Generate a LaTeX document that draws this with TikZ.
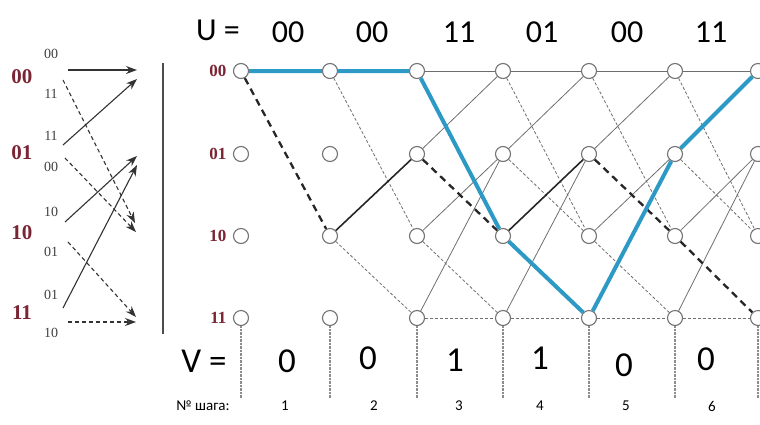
\documentclass[tikz,border=0pt]{standalone}
\usepackage{fontspec}
\setmainfont{Carlito}
\newfontfamily\statefont{Liberation Serif}
\usetikzlibrary{arrows.meta,positioning}
\definecolor{statered}{HTML}{7A2434}
\definecolor{pathblue}{HTML}{2C9AC4}
\definecolor{edgegray}{HTML}{6E6E6E}

\begin{document}
\begin{tikzpicture}[x=1pt,y=-1pt,
    state/.style={circle,draw=black!55,fill=white,line width=1.1pt,inner sep=0pt,minimum size=15pt},
    slab/.style={font=\statefont\bfseries\fontsize{17}{17}\selectfont,text=statered},
    biglab/.style={font=\statefont\bfseries\fontsize{21}{21}\selectfont,text=statered},
    olab/.style={font=\statefont\fontsize{14}{14}\selectfont,text=black!75},
    branch/.style={edgegray,line width=0.8pt},
    branchdash/.style={edgegray,line width=0.8pt,dash pattern=on 3pt off 2pt},
    surv/.style={black!85,line width=1.6pt},
    survdash/.style={black!85,line width=2.3pt,dash pattern=on 7pt off 5pt},
    bestpath/.style={pathblue,line width=4pt,line join=round},
    arrow/.style={black!80,line width=1.1pt,-{Stealth[length=11pt,width=8pt]}},
    arrowdash/.style={arrow,dash pattern=on 4pt off 3pt},
    steptick/.style={black!45,line width=1.4pt,dash pattern=on 0.8pt off 0.6pt},
    utext/.style={font=\fontsize{32}{32}\selectfont},
    vtext/.style={font=\fontsize{35}{35}\selectfont},
    ntext/.style={font=\fontsize{15}{15}\selectfont}
]
    \useasboundingbox (0,0) rectangle (760,424);

    % state diagram on the left
    \node[biglab] (s00) at (22,77) {00};
    \node[biglab] (s01) at (22,153) {01};
    \node[biglab] (s10) at (22,233) {10};
    \node[biglab] (s11) at (22,313) {11};
    \node[olab] (o1) at (51,54) {00};
    \node[olab] (o2) at (51,94) {11};
    \node[olab] (o3) at (51,136) {11};
    \node[olab] (o4) at (51,167) {00};
    \node[olab] (o5) at (51,212) {10};
    \node[olab] (o6) at (51,252) {01};
    \node[olab] (o7) at (51,295) {01};
    \node[olab] (o8) at (51,333) {10};
    \coordinate (a1) at (68,70);  \coordinate (b1) at (137,70);
    \coordinate (a2) at (63,80);  \coordinate (b2) at (135,223);
    \coordinate (a3) at (63,145); \coordinate (b3) at (137,79);
    \coordinate (a4) at (65,158); \coordinate (b4) at (136,232);
    \coordinate (a5) at (65,222); \coordinate (b5) at (137,156);
    \coordinate (a6) at (68,242); \coordinate (b6) at (136,317);
    \coordinate (a7) at (63,308); \coordinate (b7) at (137,165);
    \coordinate (a8) at (68,322); \coordinate (b8) at (136,322);
    \draw[arrow] (a1) -- (b1);
    \draw[arrowdash] (a2) -- (b2);
    \draw[arrow] (a3) -- (b3);
    \draw[arrowdash] (a4) -- (b4);
    \draw[arrow] (a5) -- (b5);
    \draw[arrowdash] (a6) -- (b6);
    \draw[arrow] (a7) -- (b7);
    \draw[arrowdash] (a8) -- (b8);
    \coordinate (sepTop) at (163,63);
    \coordinate (sepBot) at (163,334);
    \draw[black!70,line width=1.3pt] (sepTop) -- (sepBot);

    % trellis
    \foreach \c/\x in {0/241,1/330,2/417,3/503,4/589,5/675,6/758} {
        \foreach \s/\y in {00/71,01/154,10/236,11/318}
            \node[state] (t\c-\s) at (\x,\y) {};
        \coordinate (b\c) at (\x,398);
        \draw[steptick] (t\c-11.south) -- (b\c);
    }
    \foreach \s in {00,01,10,11}
        \node[slab,left=3pt of t0-\s] (r\s) {\s};

    \foreach \t/\u/\a/\b in {2/3/00/00,2/3/01/00,2/3/10/01,2/3/11/01,3/4/00/00,3/4/01/00,3/4/11/01,
                             4/5/00/00,4/5/01/00,4/5/10/01,5/6/00/00,5/6/10/01,5/6/11/01}
        \draw[branch] (t\t-\a) -- (t\u-\b);
    \foreach \t/\u/\a/\b in {1/2/00/10,1/2/10/11,2/3/10/11,2/3/11/11,3/4/00/10,3/4/01/10,3/4/11/11,
                             4/5/00/10,4/5/10/11,4/5/11/11,5/6/00/10,5/6/01/10,5/6/11/11}
        \draw[branchdash] (t\t-\a) -- (t\u-\b);
    \draw[surv] (t1-10) -- (t2-01);
    \draw[surv] (t3-10) -- (t4-01);
    \draw[survdash] (t0-00) -- (t1-10);
    \draw[survdash] (t2-01) -- (t3-10);
    \draw[survdash] (t4-01) -- (t5-10) -- (t6-11);
    \draw[bestpath] (t0-00) -- (t1-00) -- (t2-00) -- (t3-10) -- (t4-11) -- (t5-01) -- (t6-00);

    % code words
    \node[utext] (ulab) at (218,30) {U =};
    \foreach \i/\v/\x in {1/00/288,2/00/372,3/11/459,4/01/542,5/00/627,6/11/711}
        \node[utext] (u\i) at (\x,32) {\v};
    \node[vtext] (vlab) at (204,361) {V =};
    \foreach \i/\v/\x/\y in {1/0/287/361,2/0/368/358,3/1/455/360,4/1/540/358,5/0/624/365,6/0/706/359}
        \node[vtext] (v\i) at (\x,\y) {\v};
    \node[ntext] (stepsLab) at (203,406) {№ шага:};
    \foreach \i/\x in {1/285,2/374,3/459,4/540,5/626,6/712}
        \node[ntext] (n\i) at (\x,406) {\i};
\end{tikzpicture}
\end{document}
